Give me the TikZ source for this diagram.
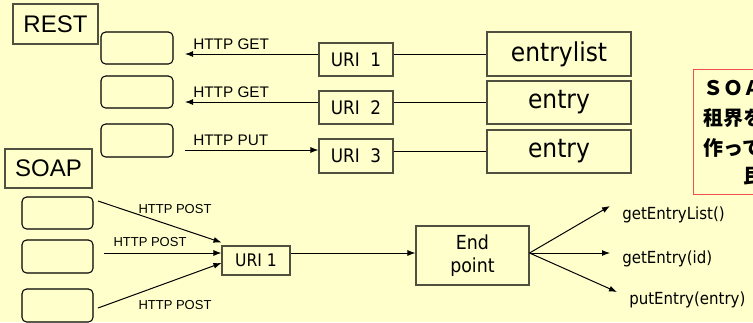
\documentclass[tikz,border=0pt]{standalone}
\usepackage{fontspec}
\setmainfont{Liberation Sans}
\newfontfamily\tahoma{DejaVu Sans Condensed}
\newfontfamily\jpfont{Noto Sans CJK JP}
\usetikzlibrary{arrows.meta,calc}
\definecolor{bgyellow}{RGB}{255,255,204}
\definecolor{boxgray}{RGB}{80,80,64}
\definecolor{notered}{RGB}{240,80,80}
\begin{document}
\begin{tikzpicture}
[x=0.75pt,y=-0.75pt,
  tagbox/.style={draw=boxgray,line width=0.8pt,inner sep=0pt,font=\fontsize{18}{20}\selectfont},%
  client/.style={draw=black,line width=0.8pt,rounded corners=3.5pt,inner sep=0pt,minimum width=54pt,minimum height=24pt},%
  uribox/.style={draw=boxgray,line width=0.8pt,inner sep=0pt,minimum width=55.5pt,minimum height=24.75pt,font=\tahoma\fontsize{14}{16}\selectfont},%
  resbox/.style={draw=boxgray,line width=0.8pt,inner sep=0pt,minimum width=108pt,font=\tahoma\fontsize{19.5}{21}\selectfont},%
  httplabel/.style={inner sep=0pt,font=\fontsize{11.5}{13}\selectfont},%
  postlabel/.style={inner sep=0pt,font=\fontsize{9.75}{11}\selectfont},%
  methodlabel/.style={anchor=west,inner sep=0pt,font=\tahoma\fontsize{12.5}{14}\selectfont},%
  jp/.style={anchor=west,inner sep=0pt,font=\jpfont\bfseries\fontsize{15}{18}\selectfont},%
  linedecorate/.style={-,line width=0.75pt},%
  arr/.style={-{Latex[length=6pt,width=4.5pt]},line width=0.75pt}]
\useasboundingbox (0,0) rectangle (753,322);
\fill[bgyellow] (0,0) rectangle (753,322);
\clip (0,0) rectangle (753,322);
% REST side
\node (rest) at (55.5,24) [tagbox,minimum width=63.75pt,minimum height=30pt] {REST};
\node (rc1) at (137,48) [client] {};
\node (rc2) at (137,92) [client] {};
\node (rc3) at (137,140.5) [client,minimum height=24.75pt] {};
\node (uri1) at (356,59.5) [uribox] {URI\ \ 1};
\node (uri2) at (356,107.5) [uribox] {URI\ \ 2};
\node (uri3) at (356,156) [uribox,minimum height=25.5pt] {URI\ \ 3};
\node (elist) at (559,54) [resbox,minimum height=33pt] {entrylist};
\node (eget) at (559,102.5) [resbox,minimum height=32.25pt] {entry};
\node (eput) at (559,151.5) [resbox,minimum height=32.25pt] {entry};
\coordinate (rg1) at (185,54);
\coordinate (rg2) at (185,102);
\coordinate (rp3) at (185,150);
\node (lget1) at (193,44.5) [httplabel,anchor=west] {HTTP GET};
\node (lget2) at (193,92) [httplabel,anchor=west] {HTTP GET};
\node (lput3) at (193,140) [httplabel,anchor=west] {HTTP PUT};
% REST lines
\draw[arr] (uri1.west |- rg1) -- (rg1);
\draw[arr] (uri2.west |- rg2) -- (rg2);
\draw[arr] (rp3) -- (uri3.west |- rp3);
\path
(uri1.east |- elist.west) edge[linedecorate] (elist.west)
(uri2.east |- eget.west) edge[linedecorate] (eget.west)
(uri3.east |- eput.west) edge[linedecorate] (eput.west);
% SOAP side
\node (soap) at (48.5,168.5) [tagbox,minimum width=65.25pt,minimum height=29.25pt] {SOAP};
\node (sc1) at (57.5,213) [client,minimum width=53.25pt] {};
\node (sc2) at (57.5,256.5) [client,minimum width=53.25pt,minimum height=24.75pt] {};
\node (sc3) at (57.5,305.5) [client,minimum width=53.25pt,minimum height=24.75pt] {};
\node (suri) at (256,260.5) [uribox,minimum width=51pt,minimum height=21.75pt,font=\tahoma\fontsize{13}{15}\selectfont] {URI 1};
\node (endp) at (472.5,255.5) [uribox,minimum width=84.75pt,minimum height=44.25pt,align=center,font=\tahoma\fontsize{14.5}{17}\selectfont] {End\\point};
\coordinate (sp1) at (98,201);
\coordinate (sp2) at (104,253);
\coordinate (sp3) at (98,308);
\node (lpost1) at (175,209) [postlabel] {HTTP POST};
\node (lpost2) at (150,242) [postlabel] {HTTP POST};
\node (lpost3) at (175,305) [postlabel] {HTTP POST};
\draw[arr] (sp1) -- ($(suri.north west)+(0,-3)$);
\draw[arr] (sp2) -- ($(suri.west)+(0,-7.5)$);
\draw[arr] (sp3) -- ($(suri.west)+(0,2.5)$);
\draw[arr] ($(suri.east)+(0,-7.5)$) -- (endp.west |- sp2);
% methods
\node (m1) at (622,215) [methodlabel] {getEntryList()};
\node (m2) at (622,259) [methodlabel] {getEntry(id)};
\node (m3) at (629,300) [methodlabel] {putEntry(entry)};
\coordinate (mt1) at (610,206);
\coordinate (mt2) at (610,253);
\coordinate (mt3) at (617,292);
\draw[arr] (endp.east |- sp2) -- (mt1);
\draw[arr] (endp.east |- sp2) -- (mt2);
\draw[arr] (endp.east |- sp2) -- (mt3);
% note
\node (note) at (693,69) [anchor=north west,draw=notered,line width=0.8pt,fill=bgyellow,minimum width=90pt,minimum height=93.75pt] {};
\node (n1) at (703,88) [jp] {ＳＯＡＰ};
\node (n2) at (703,118) [jp] {租界を};
\node (n3) at (703,148) [jp] {作って};
\node (n4) at (743,176) [jp] {民};
\end{tikzpicture}
\end{document}
